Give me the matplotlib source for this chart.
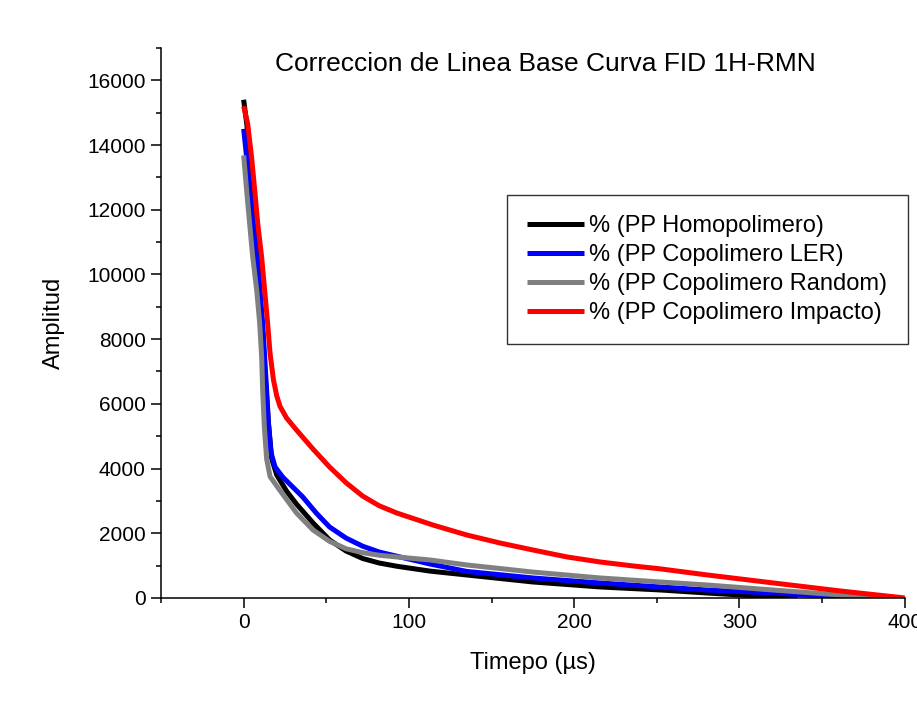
import matplotlib.pyplot as plt
from matplotlib.ticker import MultipleLocator

plt.rcParams['font.family'] = ['Liberation Sans', 'DejaVu Sans']

# tiempo (us) y amplitud
x_homo = [0, 2, 5, 8, 11, 13, 15, 17, 20, 26, 32, 42, 52, 62, 72, 82, 92.7, 112.7, 135, 175, 215.7, 252, 280, 320, 335]
y_homo = [15400, 14600, 12800, 10800, 8600, 6900, 5400, 4300, 3800, 3300, 2900, 2317, 1792, 1450, 1220, 1080, 980, 830, 710, 494, 340, 247, 154, 31, 0]

x_ler = [0, 1.8, 3.6, 5.5, 7.9, 9.7, 11.5, 12.7, 13.9, 15, 16.5, 19, 23.6, 35.8, 44, 52, 62, 72, 82, 92.7, 112.7, 135, 175, 215.7, 252, 280, 320, 361, 375]
y_ler = [14500, 13620, 12600, 11580, 10530, 9514, 8495, 7444, 6425, 5400, 4500, 4050, 3738, 3120, 2620, 2193, 1850, 1600, 1420, 1290, 1050, 820, 618, 463, 340, 247, 154, 31, 0]

x_rand = [0, 1.8, 3.6, 5.5, 7.9, 9.7, 10.9, 11.5, 12.5, 13.9, 16, 21.8, 32, 42, 52, 62, 72, 82, 92.7, 112.7, 135, 175, 215.7, 252, 280.6, 320, 361, 388]
y_rand = [13680, 12600, 11580, 10530, 9514, 8495, 7444, 6425, 5300, 4300, 3750, 3336, 2625, 2100, 1750, 1520, 1400, 1320, 1267, 1174, 1020, 800, 618, 494, 400, 247, 93, 0]

x_imp = [0, 2.4, 4.8, 6.7, 8.5, 10.9, 12.7, 14.5, 16, 18, 20, 22, 26, 32, 42, 52, 62, 72, 82, 92.7, 114.5, 135, 155, 175, 195.7, 215.7, 235.8, 252, 280.6, 320.6, 361, 400]
y_imp = [15200, 14670, 13620, 12600, 11580, 10530, 9514, 8495, 7550, 6750, 6250, 5920, 5560, 5190, 4600, 4047, 3560, 3150, 2850, 2625, 2255, 1946, 1700, 1483, 1267, 1112, 988, 900, 710, 463, 216, 0]

labels = ['% (PP Homopolimero)', '% (PP Copolimero LER)',
          '% (PP Copolimero Random)', '% (PP Copolimero Impacto)']
colors = ['black', '#0000ff', '#808080', '#ff0000']

fig = plt.figure(figsize=(9.17, 7.11), dpi=100)
ax = fig.add_axes([0.1756, 0.159, 0.811, 0.7735])

for xs, ys, lab, c in zip([x_homo, x_ler, x_rand, x_imp], [y_homo, y_ler, y_rand, y_imp], labels, colors):
    ax.plot(xs, ys, color=c, lw=3.6, label=lab, solid_capstyle='butt', solid_joinstyle='round')

ax.set_xlim(-50, 400)
ax.set_ylim(0, 17000)
ax.xaxis.set_major_locator(MultipleLocator(100))
ax.xaxis.set_minor_locator(MultipleLocator(50))
ax.yaxis.set_major_locator(MultipleLocator(2000))
ax.yaxis.set_minor_locator(MultipleLocator(1000))
ax.spines['top'].set_visible(False)
ax.spines['right'].set_visible(False)
for s in ['left', 'bottom']:
    ax.spines[s].set_linewidth(1.1)
ax.tick_params(which='major', direction='out', length=7, width=1.1, labelsize=15, pad=4)
ax.tick_params(which='minor', direction='out', length=3.5, width=1.1)

ax.set_xlabel('Timepo (µs)', fontsize=17, labelpad=14)
ax.set_ylabel('Amplitud', fontsize=17, labelpad=16)
ax.text(0.517, 0.97, 'Correccion de Linea Base Curva FID 1H-RMN', transform=ax.transAxes,
        ha='center', va='center', fontsize=19)

leg = ax.legend(loc='upper left', bbox_to_anchor=(0.465, 0.733), borderaxespad=0,
                fontsize=17, frameon=True, fancybox=False, edgecolor='black',
                handlelength=2.4, handletextpad=0.25, labelspacing=0.3,
                borderpad=0.85)
leg.get_frame().set_linewidth(1.0)

fig.savefig('out.png', dpi=100)
